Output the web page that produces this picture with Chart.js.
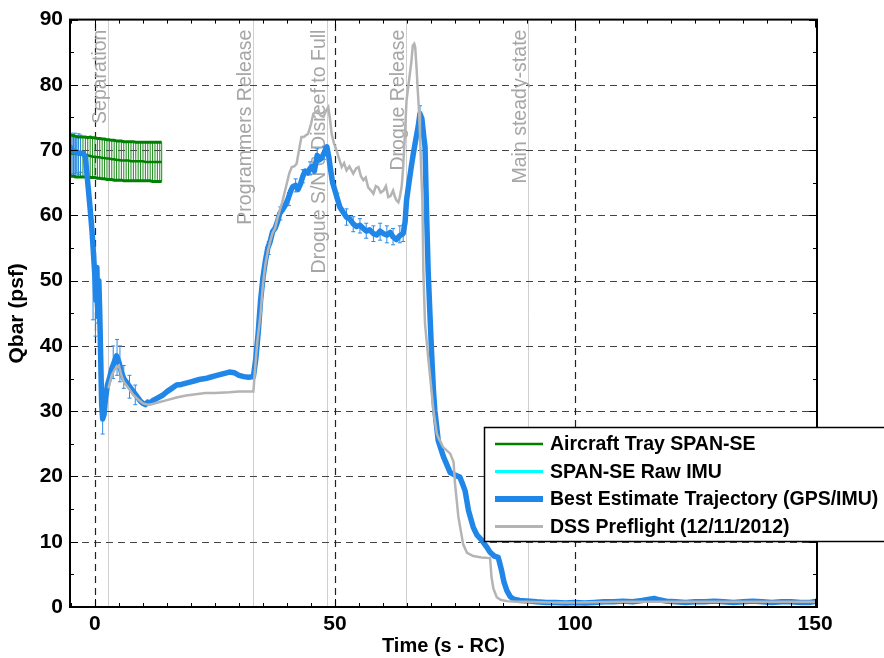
<!DOCTYPE html>
<html>
<head>
<meta charset="utf-8">
<script src="https://cdn.jsdelivr.net/npm/chart.js@4/dist/chart.umd.min.js"></script>
<style>
  body { margin: 0; background: #fff; }
</style>
</head>
<body>
<canvas id="myChart" width="884" height="658"></canvas>
<script>
// Aircraft Tray SPAN-SE (mean and bounds)
var greenTime  = [-5.0,-4.5,-4.0,-3.5,-3.0,-2.5,-2.0,-1.5,-1.0,-0.5,0.0,0.5,1.0,1.5,2.0,2.5,3.0,3.5,4.0,4.5,5.0,5.5,6.0,6.5,7.0,7.5,8.0,8.5,9.0,9.5,10.0,10.5,11.0,11.5,12.0,12.5,13.0,13.5,13.9];
var greenMean  = [69.5,69.5,69.4,69.4,69.3,69.3,69.3,69.2,69.1,69.0,69.0,68.9,68.9,68.8,68.8,68.7,68.7,68.6,68.6,68.5,68.5,68.4,68.4,68.4,68.4,68.3,68.3,68.3,68.3,68.3,68.3,68.2,68.2,68.2,68.2,68.2,68.2,68.2,68.2];
var greenUpper = [72.3,72.2,72.1,72.0,72.0,72.0,72.0,71.9,72.0,71.9,71.9,71.8,71.8,71.7,71.7,71.6,71.6,71.5,71.5,71.4,71.4,71.4,71.3,71.3,71.3,71.3,71.3,71.2,71.2,71.2,71.2,71.2,71.2,71.2,71.2,71.2,71.2,71.2,71.2];
var greenLower = [66.0,66.0,65.9,65.9,65.9,65.9,65.9,65.8,65.8,65.8,65.8,65.7,65.7,65.6,65.6,65.5,65.5,65.5,65.4,65.4,65.4,65.4,65.3,65.3,65.3,65.3,65.3,65.3,65.3,65.3,65.3,65.3,65.3,65.3,65.2,65.2,65.2,65.2,65.2];

// Best Estimate Trajectory (GPS/IMU)
var blueTime = [-5.2,-4.5,-3.5,-2.5,-2.0,-1.5,-1.0,-0.6,-0.3,0.0,0.2,0.4,0.6,0.8,1.0,1.2,1.4,1.6,1.9,2.2,2.6,3.0,3.5,4.0,4.5,5.0,5.5,6.0,6.5,7.0,7.5,8.0,8.5,9.0,9.5,10.0,10.5,11.0,11.5,12.0,13.0,14.0,15.0,16.0,17.0,18.0,19.0,20.0,21.0,22.0,23.0,24.0,25.0,26.0,27.0,28.0,29.0,30.0,31.0,32.0,33.0,33.5,34.0,34.5,35.0,35.5,36.0,36.5,37.0,37.5,38.0,38.5,39.0,39.6,40.2,40.8,41.2,41.8,42.3,42.8,43.3,43.8,44.3,44.8,45.2,45.7,46.3,46.8,47.2,47.7,48.3,48.7,49.0,49.5,50.0,50.5,51.0,51.7,52.4,53.0,53.8,54.5,55.2,55.9,56.5,57.2,58.0,58.7,59.4,60.1,60.8,61.5,62.1,62.8,63.5,64.2,64.6,64.9,65.4,65.9,66.3,66.8,67.3,67.7,68.1,68.5,68.75,69.1,69.4,69.8,70.1,70.5,70.8,71.5,72.6,74.0,75.0,76.0,76.5,77.1,77.8,78.8,79.6,80.6,81.5,82.3,83.2,84.0,84.7,85.2,85.8,86.5,87.2,88.5,90.6,92,94,96,98,100,102,104,106,108,110,112,114,115.5,116.5,117.5,119,121,123,125,127,129,131,133,135,137,139,141,143,145,147,149,150.3];
var blueQbar = [70.5,69.8,69.6,69.5,69.0,65.0,61.0,57.5,54.0,50.5,47.0,52.0,44.5,50.0,45.0,38.0,31.0,28.8,29.5,32.0,34.0,35.0,36.5,37.5,38.5,37.5,36.0,35.0,34.5,34.0,33.5,33.0,32.5,32.0,31.5,31.2,31.0,31.4,31.3,31.6,32.0,32.4,33.0,33.5,34.0,34.1,34.3,34.5,34.7,34.9,35.0,35.2,35.4,35.6,35.8,36.0,35.9,35.5,35.3,35.2,35.3,38.0,42.0,47.0,50.5,53.0,55.0,56.0,57.5,58.0,59.0,60.3,60.8,61.5,62.5,63.8,64.4,64.6,64.0,64.8,66.0,66.8,66.5,67.2,67.5,66.8,69.2,68.5,68.8,69.5,70.5,69.0,67.4,65.0,63.8,62.5,61.3,60.5,59.7,59.5,58.7,58.3,58.5,58.0,57.6,57.8,57.2,57.0,57.6,57.2,57.0,57.4,56.7,56.3,56.9,57.2,59.0,62.3,65.0,67.5,69.4,71.5,73.5,75.6,74.8,72.0,70.5,59.7,51.6,44.4,39.3,33.2,30.1,25.5,23.0,20.6,20.2,19.9,19.0,17.8,14.8,12.2,11.0,10.2,9.3,8.4,7.8,7.6,5.6,3.8,2.5,1.6,1.2,1.0,0.9,0.8,0.7,0.7,0.6,0.7,0.6,0.7,0.8,0.8,0.9,0.8,1.0,1.2,1.3,1.1,0.9,0.8,0.7,0.8,0.8,0.9,0.8,0.7,0.8,0.9,0.8,0.7,0.8,0.8,0.7,0.7,0.9];

// blue error bars (only where they show)
var blueErrTime = [-5.0,-4.6,-4.2,-3.8,-3.4,-3.0,-0.4,0.1,0.5,1.6,3.8,4.6,5.2,6.0,7.2,8.4,36.2,38.6,40.4,41.8,43.3,44.8,46.3,47.7,50.5,52.4,53.8,55.2,56.5,58.0,59.4,60.8,62.1,63.5,64.2,67.7];
var blueErrLo   = [66.2,66.4,66.0,66.5,66.3,66.6,44.0,41.5,43.5,26.5,35.0,35.5,34.5,33.5,32.0,31.0,54.0,59.3,61.5,63.6,65.0,66.2,68.2,68.6,61.6,58.5,57.5,57.3,56.5,56.0,56.2,55.8,55.5,55.8,56.0,74.3];
var blueErrHi   = [72.6,72.4,72.6,72.2,72.5,72.3,53.5,52.0,51.0,31.5,40.0,41.0,40.0,37.0,35.5,34.0,56.0,61.3,63.5,65.6,67.0,68.2,70.2,70.6,63.4,61.0,59.8,59.5,58.8,58.4,58.8,58.4,58.0,58.4,58.5,76.8];

// DSS Preflight (12/11/2012)
var grayTime = [2.8,3.5,4.2,5.0,5.5,6.0,7.0,8.0,9.0,10.0,11.0,12.0,13.5,15.0,17.0,19.0,21.0,23.0,25.0,28.0,30.0,33.0,33.3,33.8,34.5,35.0,35.5,36.0,36.5,37.0,37.5,38.0,38.5,39.0,39.5,40.0,40.5,41.0,41.5,42.0,42.5,43.0,43.5,44.0,44.4,45.0,45.5,46.0,46.5,47.0,47.6,48.1,48.6,49.0,49.3,49.8,50.3,50.8,51.4,51.9,52.4,53.0,53.8,54.4,54.9,55.4,55.9,56.4,56.9,57.5,58.0,58.5,59.0,59.5,60.1,60.6,61.1,61.6,62.1,62.5,62.8,63.2,63.5,63.9,64.2,64.6,64.9,65.3,65.6,65.9,66.2,66.5,66.7,67.0,67.2,67.5,67.7,68.0,68.2,68.3,68.4,68.75,69.4,70.1,70.5,71.2,71.5,72.5,74.0,74.7,75.0,75.7,76.7,77.5,78.8,80.5,82.3,82.6,83.0,83.7,84.5,85.8,88,90,95,100,110,120,130,140,150.3];
var grayQbar = [33.5,35.5,36.5,37.0,35.5,34.5,33.5,32.5,31.8,31.2,31.0,31.1,31.4,31.7,32.1,32.4,32.6,32.8,32.8,32.9,33.0,33.0,36.0,40.5,45.0,49.5,52.5,54.5,56.0,57.3,58.0,59.5,60.8,62.0,63.5,65.0,66.5,67.4,67.5,67.9,70.0,72.0,72.0,72.3,72.5,74.0,75.6,75.8,76.1,75.3,75.1,76.0,76.6,74.5,72.5,71.0,70.0,68.8,67.4,68.0,66.9,67.5,66.4,67.2,67.4,66.0,65.4,65.8,64.3,63.8,63.3,64.5,64.3,63.5,63.8,64.5,62.8,63.0,63.8,62.8,62.3,62.0,62.8,64.5,67.4,73.0,77.6,80.0,81.7,83.5,86.0,86.3,85.8,82.5,79.6,76.0,72.5,66.0,62.3,57.2,51.6,43.4,38.3,33.2,30.1,26.6,26.0,24.5,23.5,22.2,18.9,13.8,9.6,8.3,7.8,7.6,7.5,4.6,2.8,1.5,1.1,0.9,0.8,0.8,0.7,0.7,0.8,0.8,0.8,0.8,0.8];

// event markers
var eventTime  = [2.8, 33.0, 48.3, 64.7, 90.1];
var eventLabel = ['Separation', 'Programmers Release', 'Drogue S/N 6 Disreef to Full', 'Drogue Release', 'Main steady-state'];

var xMajor = [0, 50, 100];
var yMajor = [10, 20, 30, 40, 50, 60, 70, 80];

function pts(t, v) {
    var out = [];
    for (var i = 0; i < t.length; i++) out.push({x: t[i], y: v[i]});
    return out;
}

var FONT = 'Liberation Sans, Arial, sans-serif';

var extras = {
    id: 'extras',
    beforeDraw: function(chart) {
        var c = chart.ctx;
        c.save();
        c.fillStyle = '#fff';
        c.fillRect(0, 0, chart.width, chart.height);
        c.restore();
    },
    beforeDatasetsDraw: function(chart) {
        var c = chart.ctx, a = chart.chartArea;
        var xs = chart.scales.x, ys = chart.scales.y;
        c.save();
        // event lines
        c.strokeStyle = '#d0d0d0';
        c.lineWidth = 1;
        eventTime.forEach(function(t) {
            var px = Math.round(xs.getPixelForValue(t)) + 0.5;
            c.beginPath(); c.moveTo(px, a.top); c.lineTo(px, a.bottom); c.stroke();
        });
        // dashed grid
        c.setLineDash([7, 5]);
        c.strokeStyle = '#444';
        c.lineWidth = 1.2;
        yMajor.forEach(function(v) {
            var py = Math.round(ys.getPixelForValue(v)) + 0.5;
            c.beginPath(); c.moveTo(a.left, py); c.lineTo(a.right, py); c.stroke();
        });
        c.strokeStyle = '#222';
        xMajor.forEach(function(v) {
            var px = Math.round(xs.getPixelForValue(v)) + 0.5;
            c.beginPath(); c.moveTo(px, a.bottom); c.lineTo(px, a.top); c.stroke();
        });
        c.setLineDash([]);
        // event labels
        c.fillStyle = '#a6a6a6';
        c.font = '19.5px ' + FONT;
        c.textAlign = 'right';
        c.textBaseline = 'alphabetic';
        eventTime.forEach(function(t, i) {
            var px = xs.getPixelForValue(t);
            c.save();
            c.translate(px - 2, a.top + 10);
            c.rotate(-Math.PI / 2);
            c.fillText(eventLabel[i], 0, 0);
            c.restore();
        });
        // error bars
        c.beginPath();
        c.rect(a.left, a.top, a.right - a.left, a.bottom - a.top);
        c.clip();
        c.lineWidth = 1;
        c.strokeStyle = '#1a8a1a';
        greenTime.forEach(function(t, i) {
            var px = xs.getPixelForValue(t);
            c.beginPath();
            c.moveTo(px, ys.getPixelForValue(greenLower[i]));
            c.lineTo(px, ys.getPixelForValue(greenUpper[i]));
            c.stroke();
        });
        c.strokeStyle = '#2a8ae8';
        blueErrTime.forEach(function(t, i) {
            var px = xs.getPixelForValue(t);
            var y0 = ys.getPixelForValue(blueErrLo[i]), y1 = ys.getPixelForValue(blueErrHi[i]);
            c.beginPath();
            c.moveTo(px, y0); c.lineTo(px, y1);
            c.moveTo(px - 2, y0); c.lineTo(px + 2, y0);
            c.moveTo(px - 2, y1); c.lineTo(px + 2, y1);
            c.stroke();
        });
        c.restore();
    },
    afterDraw: function(chart) {
        var c = chart.ctx, a = chart.chartArea;
        var xs = chart.scales.x, ys = chart.scales.y;
        c.save();
        c.strokeStyle = '#000';
        c.lineWidth = 1;
        // tick marks inside on all four sides
        for (var v = -5; v <= 150; v += 5) {
            var px = Math.round(xs.getPixelForValue(v)) + 0.5;
            var len = (v % 50 === 0) ? 8 : 4;
            c.beginPath();
            c.moveTo(px, a.bottom); c.lineTo(px, a.bottom - len);
            c.moveTo(px, a.top); c.lineTo(px, a.top + len);
            c.stroke();
        }
        for (var w = 0; w <= 90; w += 5) {
            var py = Math.round(ys.getPixelForValue(w)) + 0.5;
            var len2 = (w % 10 === 0) ? 8 : 4;
            c.beginPath();
            c.moveTo(a.left, py); c.lineTo(a.left + len2, py);
            c.moveTo(a.right, py); c.lineTo(a.right - len2, py);
            c.stroke();
        }
        // plot frame
        c.lineWidth = 2;
        c.strokeRect(a.left, a.top, a.right - a.left, a.bottom - a.top);

        // legend box
        var lx = 484, ly = 427, lw = 420, lh = 114;
        c.fillStyle = '#fff';
        c.fillRect(lx, ly, lw, lh);
        c.lineWidth = 1.5;
        c.strokeRect(lx + 0.5, ly + 0.5, lw, lh);
        var rows = chart.data.datasets.filter(function(d) { return d.inLegend; });
        c.font = 'bold 19.5px ' + FONT;
        c.textAlign = 'left';
        c.textBaseline = 'middle';
        rows.forEach(function(d, i) {
            var ry = ly + 17 + i * 27.5;
            c.strokeStyle = d.borderColor;
            c.lineWidth = d.legendWidth;
            c.beginPath(); c.moveTo(lx + 11, ry); c.lineTo(lx + 59, ry); c.stroke();
            c.fillStyle = '#000';
            c.fillText(d.label, lx + 66, ry + 1);
        });
        c.restore();
    }
};

var ctx = document.getElementById('myChart').getContext('2d');
var chart = new Chart(ctx, {
    type: 'line',
    data: {
        datasets: [
            {
                label: 'Aircraft Tray SPAN-SE', inLegend: true, legendWidth: 2.5,
                data: pts(greenTime, greenMean), borderColor: '#008000', borderWidth: 2.5,
                pointRadius: 0, order: 5
            },
            {
                label: 'upper', data: pts(greenTime, greenUpper), borderColor: '#008000', borderWidth: 3,
                pointRadius: 0, order: 5
            },
            {
                label: 'lower', data: pts(greenTime, greenLower), borderColor: '#008000', borderWidth: 3,
                pointRadius: 0, order: 5
            },
            {
                label: 'SPAN-SE Raw IMU', inLegend: true, legendWidth: 3,
                data: [], borderColor: '#00ffff', borderWidth: 2, pointRadius: 0, order: 4
            },
            {
                label: 'Best Estimate Trajectory (GPS/IMU)', inLegend: true, legendWidth: 6,
                data: pts(blueTime, blueQbar), borderColor: '#2087e8', borderWidth: 5.5,
                pointRadius: 0, order: 2, borderJoinStyle: 'round', borderCapStyle: 'round'
            },
            {
                label: 'DSS Preflight (12/11/2012)', inLegend: true, legendWidth: 3,
                data: pts(grayTime, grayQbar), borderColor: '#b4b4b4', borderWidth: 2.5,
                pointRadius: 0, order: 1
            }
        ]
    },
    options: {
        responsive: false,
        animation: false,
        layout: { padding: { top: 19, right: 67, left: 0, bottom: 0 } },
        plugins: { legend: { display: false }, tooltip: { enabled: false } },
        scales: {
            x: {
                type: 'linear', min: -5.2, max: 150.4,
                afterFit: function(s) { s.height = 51; },
                grid: { display: false, drawTicks: false },
                border: { display: false },
                ticks: {
                    stepSize: 5, includeBounds: false, autoSkip: false, maxRotation: 0, padding: 5,
                    color: '#000', font: { family: FONT, size: 21, weight: 'bold' },
                    callback: function(v) { return v % 50 === 0 ? v : ''; }
                },
                title: {
                    display: true, text: 'Time (s - RC)', color: '#000',
                    font: { family: FONT, size: 20, weight: 'bold' }, padding: { top: 0, bottom: 0 }
                }
            },
            y: {
                min: 0, max: 90,
                afterFit: function(s) { s.width = 70; },
                grid: { display: false, drawTicks: false },
                border: { display: false },
                ticks: {
                    stepSize: 5, autoSkip: false, padding: 7,
                    color: '#000', font: { family: FONT, size: 21, weight: 'bold' },
                    callback: function(v) { return v % 10 === 0 ? v : ''; }
                },
                title: {
                    display: true, text: 'Qbar (psf)', color: '#000',
                    font: { family: FONT, size: 21, weight: 'bold' }, padding: { top: 5, bottom: 0 }
                }
            }
        }
    },
    plugins: [extras]
});
</script>
</body>
</html>
